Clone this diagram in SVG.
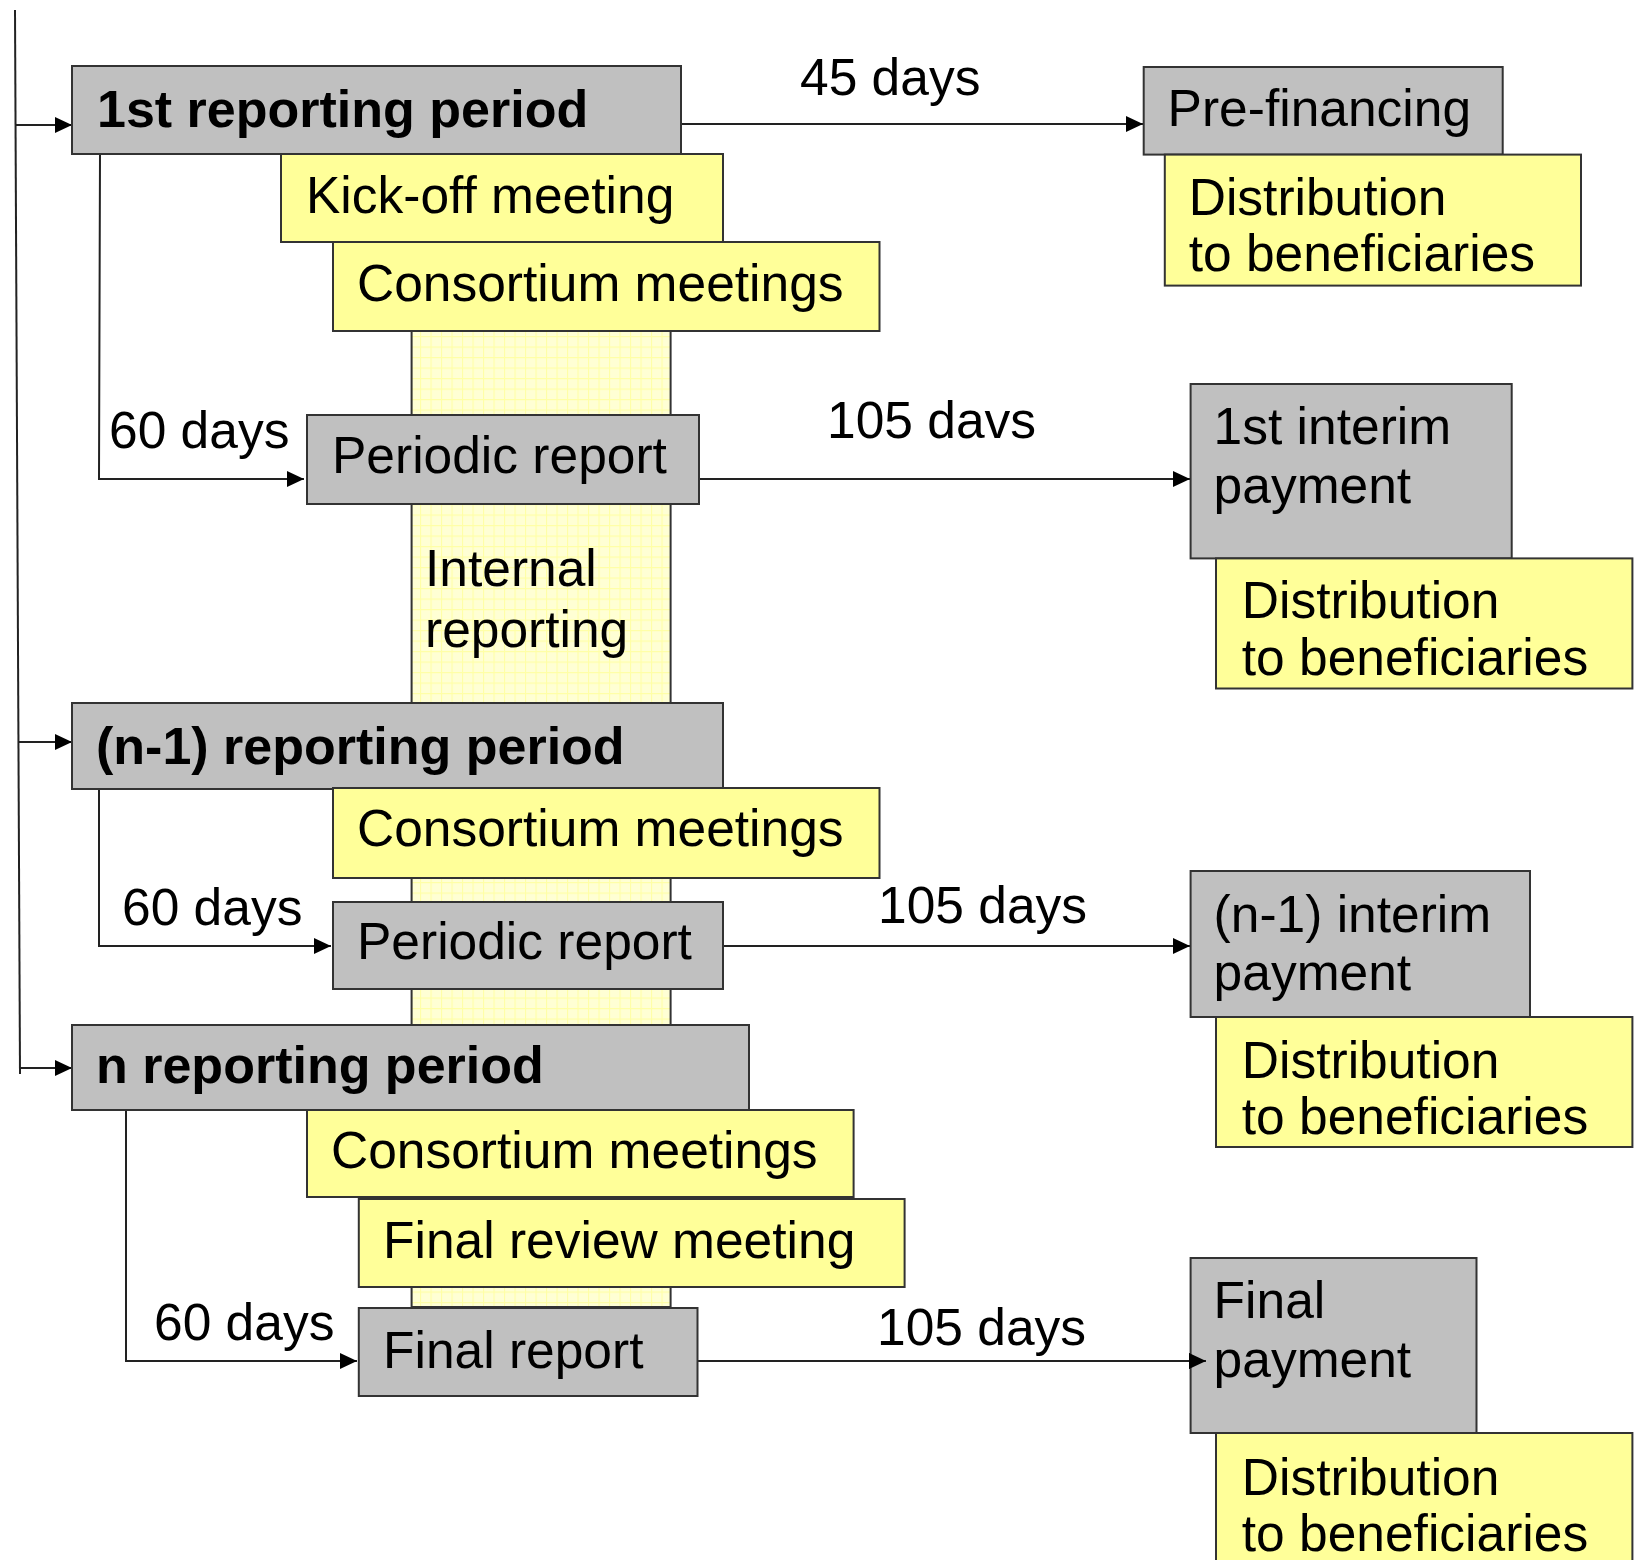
<svg xmlns="http://www.w3.org/2000/svg" width="1636" height="1560" viewBox="0 0 1636 1560">
<style>
text{font-family:"Liberation Sans",Arial,sans-serif;font-size:51.5px;fill:#000}
.b{font-weight:bold;font-size:52px}
.g{fill:#C0C0C0;stroke:#333;stroke-width:2}
.y{fill:#FFFF99;stroke:#333;stroke-width:2}
.c{fill:none;stroke:#222;stroke-width:2}
</style>
<defs>
<marker id="ah" markerUnits="userSpaceOnUse" markerWidth="18" markerHeight="16" refX="17" refY="8" orient="auto">
<path d="M0,0 L17,8 L0,16 z" fill="#000"/>
</marker>
<pattern id="grid" width="10.5" height="10.5" patternUnits="userSpaceOnUse">
<rect width="10.5" height="10.5" fill="#FFFFD4"/>
<path d="M0,0.5 H10.5 M0.5,0 V10.5" stroke="#FFFFA6" stroke-width="1.2"/>
</pattern>
</defs>

<g id="internal-reporting">
<rect x="411.6" y="331" width="259" height="976" fill="url(#grid)" stroke="#333" stroke-width="2"/>
<text x="425" y="586">Internal</text>
<text x="425" y="647">reporting</text>
</g>

<g id="connectors">
<line class="c" x1="15" y1="10" x2="20" y2="1074"/>
<line class="c" x1="15" y1="125" x2="72" y2="125" marker-end="url(#ah)"/>
<line class="c" x1="18" y1="742" x2="72" y2="742" marker-end="url(#ah)"/>
<line class="c" x1="20" y1="1068" x2="72" y2="1068" marker-end="url(#ah)"/>
<line class="c" x1="681" y1="124" x2="1143" y2="124" marker-end="url(#ah)"/>
<polyline class="c" points="100,154 99,479 304,479" marker-end="url(#ah)"/>
<line class="c" x1="699" y1="479" x2="1190" y2="479" marker-end="url(#ah)"/>
<polyline class="c" points="99,789 99,946 331,946" marker-end="url(#ah)"/>
<line class="c" x1="723" y1="946" x2="1190" y2="946" marker-end="url(#ah)"/>
<polyline class="c" points="126,1110 126,1361 357,1361" marker-end="url(#ah)"/>
<line class="c" x1="697.5" y1="1361" x2="1206" y2="1361" marker-end="url(#ah)"/>
<text x="800" y="95">45 days</text>
<text x="827" y="438">105 davs</text>
<text x="878" y="923">105 days</text>
<text x="877" y="1345">105 days</text>
<text x="109" y="448">60 days</text>
<text x="122" y="925">60 days</text>
<text x="154" y="1340">60 days</text>
</g>

<g id="period1">
<rect class="g" x="72" y="66" width="609" height="88"/>
<text class="b" x="97" y="127">1st reporting period</text>
</g>
<g id="kickoff">
<rect class="y" x="281" y="154" width="442" height="88"/>
<text x="306" y="213">Kick-off meeting</text>
</g>
<g id="consortium1">
<rect class="y" x="333" y="242" width="546.5" height="89"/>
<text x="357" y="301">Consortium meetings</text>
</g>
<g id="periodic1">
<rect class="g" x="307" y="415" width="392" height="89"/>
<text x="332" y="473">Periodic report</text>
</g>

<g id="period-n1">
<rect class="g" x="72" y="703" width="651" height="86"/>
<text class="b" x="96" y="764">(n-1) reporting period</text>
</g>
<g id="consortium2">
<rect class="y" x="333" y="788" width="546.5" height="90"/>
<text x="357" y="846">Consortium meetings</text>
</g>
<g id="periodic2">
<rect class="g" x="333" y="902" width="390" height="87"/>
<text x="357" y="959">Periodic report</text>
</g>

<g id="period-n">
<rect class="g" x="72" y="1025" width="677" height="85"/>
<text class="b" x="96" y="1083">n reporting period</text>
</g>
<g id="consortium3">
<rect class="y" x="307" y="1110" width="546.6" height="87"/>
<text x="331" y="1168">Consortium meetings</text>
</g>
<g id="final-review">
<rect class="y" x="358.8" y="1199" width="545.8" height="88"/>
<text x="383" y="1258">Final review meeting</text>
</g>
<g id="final-report">
<rect class="g" x="358.8" y="1308" width="338.7" height="88"/>
<text x="383" y="1368">Final report</text>
</g>

<g id="prefinancing">
<rect class="g" x="1143.7" y="67" width="359" height="87.6"/>
<text x="1167.6" y="125.5">Pre-financing</text>
</g>
<g id="distribution1">
<rect class="y" x="1164.8" y="154.6" width="416.2" height="131"/>
<text x="1188.7" y="214.6">Distribution</text>
<text x="1188.7" y="271.3">to beneficiaries</text>
</g>
<g id="interim1">
<rect class="g" x="1190.6" y="384" width="321.1" height="174.4"/>
<text x="1213.6" y="444">1st interim</text>
<text x="1213.6" y="503">payment</text>
</g>
<g id="distribution2">
<rect class="y" x="1216" y="558.4" width="416.4" height="130.1"/>
<text x="1241.8" y="617.5">Distribution</text>
<text x="1241.8" y="674.7">to beneficiaries</text>
</g>
<g id="interim-n1">
<rect class="g" x="1190.6" y="871" width="339.4" height="146"/>
<text x="1213.6" y="932">(n-1) interim</text>
<text x="1213.6" y="990">payment</text>
</g>
<g id="distribution3">
<rect class="y" x="1216" y="1017" width="416.4" height="130"/>
<text x="1241.8" y="1077.6">Distribution</text>
<text x="1241.8" y="1133.7">to beneficiaries</text>
</g>
<g id="final-payment">
<rect class="g" x="1190.6" y="1258" width="285.9" height="175"/>
<text x="1213.6" y="1317.6">Final</text>
<text x="1213.6" y="1377.3">payment</text>
</g>
<g id="distribution4">
<rect class="y" x="1216" y="1433" width="416.4" height="140"/>
<text x="1241.8" y="1494.8">Distribution</text>
<text x="1241.8" y="1551">to beneficiaries</text>
</g>
<line class="c" x1="1190" y1="1361" x2="1206" y2="1361" marker-end="url(#ah)"/>
</svg>
